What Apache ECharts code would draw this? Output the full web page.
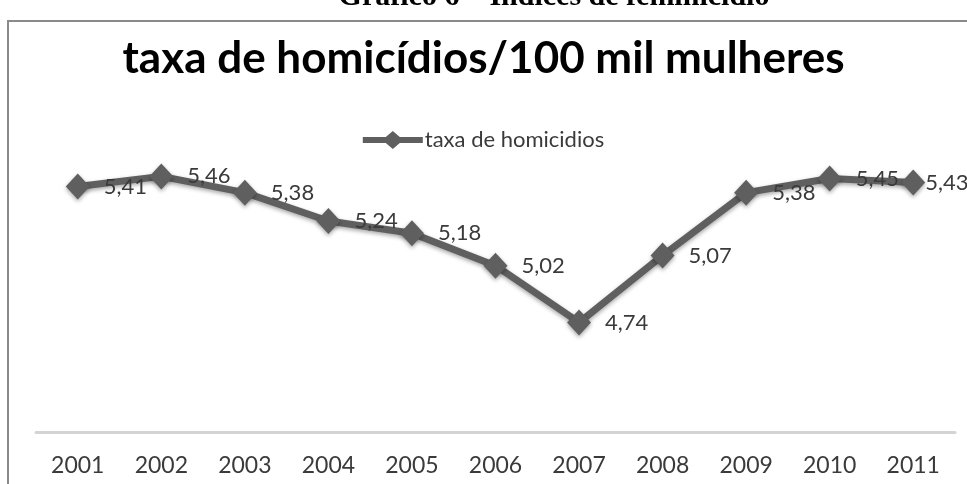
<!DOCTYPE html>
<html>
<head>
<meta charset="utf-8">
<script src="https://cdn.jsdelivr.net/npm/echarts@6/dist/echarts.min.js"></script>
<style>
  html, body { margin: 0; padding: 0; background: #fff; }
  #chart { width: 967px; height: 484px; }
</style>
</head>
<body>
<div id="chart"></div>
<script>
// data
const years = ['2001', '2002', '2003', '2004', '2005', '2006', '2007', '2008', '2009', '2010', '2011'];
const taxaHomicidios = [5.41, 5.46, 5.38, 5.24, 5.18, 5.02, 4.74, 5.07, 5.38, 5.45, 5.43];

const lineColor = '#5f5f5f';
const textColor = '#3a3a3a';
const sansFont = 'Lato, "Open Sans", sans-serif';

// legend icon: thick line with a small diamond in the middle
const legendIcon = 'path://M0,6L23,6L30,0L37,6L60,6L60,12L37,12L30,18L23,12L0,12Z';

// last label sits tight to its marker (right edge of the frame)
const seriesData = taxaHomicidios.map((v, i) =>
  i === taxaHomicidios.length - 1 ? { value: v, label: { distance: 0 } } : v
);

const chart = echarts.init(document.getElementById('chart'), null, { renderer: 'canvas' });

chart.setOption({
  backgroundColor: '#fff',
  animation: false,
  title: {
    text: 'taxa de homicídios/100 mil mulheres',
    left: 'center',
    top: 32,
    textStyle: {
      fontFamily: sansFont,
      fontWeight: 'bold',
      fontSize: 44,
      color: '#000'
    }
  },
  legend: {
    top: 124,
    left: 'center',
    itemWidth: 60,
    itemHeight: 18,
    itemGap: 2,
    textStyle: { fontFamily: sansFont, fontSize: 22, color: textColor, padding: [0, 0, 0, -3] },
    data: [{ name: 'taxa de homicidios', icon: legendIcon, itemStyle: { color: lineColor } }]
  },
  graphic: [
    {
      type: 'rect',
      shape: { x: 8, y: 21, width: 980, height: 490 },
      style: { fill: 'none', stroke: '#8a8a8a', lineWidth: 2 },
      z: -1
    },
    {
      type: 'text',
      x: 554,
      y: 12,
      style: {
        text: 'Gráfico 6 – Índices de feminicídio',
        font: 'bold 30px "Liberation Serif", serif',
        fill: '#000',
        textAlign: 'center',
        textVerticalAlign: 'bottom'
      }
    }
  ],
  grid: { left: 36, right: 12, top: 148, bottom: 52 },
  xAxis: {
    type: 'category',
    data: years,
    boundaryGap: true,
    axisLine: { lineStyle: { color: '#d4d4d4', width: 3 } },
    axisTick: { show: false },
    axisLabel: { fontFamily: sansFont, fontSize: 23, color: textColor, margin: 22 }
  },
  yAxis: {
    type: 'value',
    min: 4.2,
    max: 5.6,
    show: false
  },
  series: [
    {
      name: 'taxa de homicidios',
      type: 'line',
      data: seriesData,
      symbol: 'diamond',
      symbolSize: [24, 26],
      lineStyle: {
        color: lineColor,
        width: 7,
        shadowBlur: 4,
        shadowColor: 'rgba(0,0,0,0.35)',
        shadowOffsetY: 2
      },
      itemStyle: {
        color: lineColor,
        shadowBlur: 4,
        shadowColor: 'rgba(0,0,0,0.35)',
        shadowOffsetY: 2
      },
      label: {
        show: true,
        position: 'right',
        distance: 14,
        fontFamily: sansFont,
        fontSize: 22,
        color: textColor,
        formatter: (p) => p.value.toFixed(2).replace('.', ',')
      }
    }
  ]
});
</script>
</body>
</html>
